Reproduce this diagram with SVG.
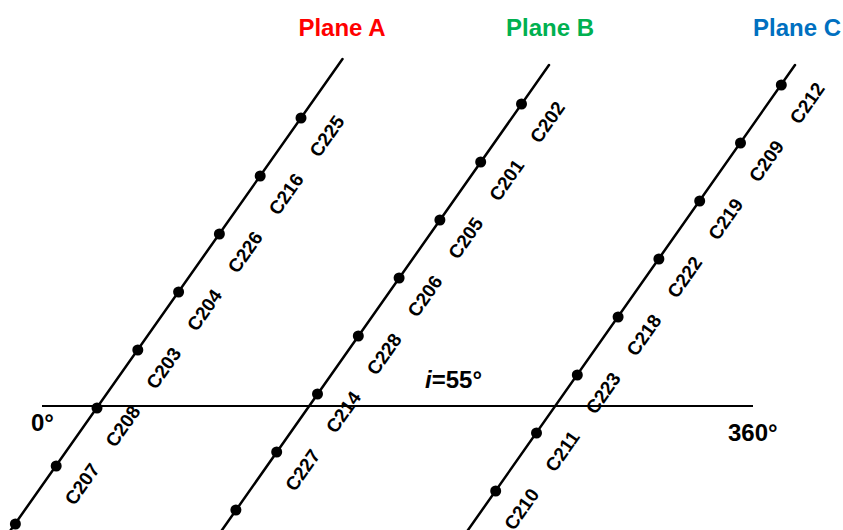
<svg xmlns="http://www.w3.org/2000/svg" width="843" height="530" viewBox="0 0 843 530">
<style>
.ln{stroke:#000;stroke-width:2.5;fill:none;stroke-linecap:round}
.ax{stroke:#000;stroke-width:2;fill:none}
.dot{fill:#000}
.lb{font-family:"Liberation Sans",Arial,sans-serif;font-weight:bold;font-size:19px;fill:#000;text-anchor:middle}
.tt{font-family:"Liberation Sans",Arial,sans-serif;font-weight:bold;font-size:24px;text-anchor:middle}
.ax-t{font-family:"Liberation Sans",Arial,sans-serif;font-weight:bold;font-size:24px;fill:#000}
</style>
<rect width="843" height="530" fill="#fff"/>
<g id="titles">
<text class="tt" x="342" y="36" fill="#FF0000">Plane A</text>
<text class="tt" x="550" y="36" fill="#00B050">Plane B</text>
<text class="tt" x="797" y="36" fill="#0070C0">Plane C</text>
</g>
<g id="connectors">
<line class="ax" x1="42" y1="406" x2="753" y2="406"/>
<line class="ln" x1="342.5" y1="59" x2="3" y2="541"/>
<line class="ln" x1="549" y1="65" x2="215" y2="540"/>
<line class="ln" x1="795" y1="65" x2="461" y2="540"/>
</g>
<g id="axis-labels">
<text class="ax-t" x="31" y="431">0°</text>
<text class="ax-t" x="728" y="441">360°</text>
<text class="ax-t" x="425" y="388"><tspan font-style="italic">i</tspan>=55°</text>
</g>
<g id="C225"><circle class="dot" cx="301" cy="118" r="5.5"/><text class="lb" transform="translate(326.5,136) rotate(-55)" y="7">C225</text></g>
<g id="C216"><circle class="dot" cx="260.2" cy="176" r="5.5"/><text class="lb" transform="translate(285.7,194) rotate(-55)" y="7">C216</text></g>
<g id="C226"><circle class="dot" cx="219.4" cy="234" r="5.5"/><text class="lb" transform="translate(244.9,252) rotate(-55)" y="7">C226</text></g>
<g id="C204"><circle class="dot" cx="178.6" cy="292" r="5.5"/><text class="lb" transform="translate(204.1,310) rotate(-55)" y="7">C204</text></g>
<g id="C203"><circle class="dot" cx="137.8" cy="350" r="5.5"/><text class="lb" transform="translate(163.3,368) rotate(-55)" y="7">C203</text></g>
<g id="C208"><circle class="dot" cx="97" cy="408" r="5.5"/><text class="lb" transform="translate(122.5,426) rotate(-55)" y="7">C208</text></g>
<g id="C207"><circle class="dot" cx="56.2" cy="466" r="5.5"/><text class="lb" transform="translate(81.7,484) rotate(-55)" y="7">C207</text></g>
<g id="A-bottom"><circle class="dot" cx="15.4" cy="524" r="5.5"/></g>
<g id="C202"><circle class="dot" cx="521.5" cy="104" r="5.5"/><text class="lb" transform="translate(547,122) rotate(-55)" y="7">C202</text></g>
<g id="C201"><circle class="dot" cx="480.7" cy="162" r="5.5"/><text class="lb" transform="translate(506.2,180) rotate(-55)" y="7">C201</text></g>
<g id="C205"><circle class="dot" cx="439.9" cy="220" r="5.5"/><text class="lb" transform="translate(465.4,238) rotate(-55)" y="7">C205</text></g>
<g id="C206"><circle class="dot" cx="399.1" cy="278" r="5.5"/><text class="lb" transform="translate(424.6,296) rotate(-55)" y="7">C206</text></g>
<g id="C228"><circle class="dot" cx="358.3" cy="336" r="5.5"/><text class="lb" transform="translate(383.8,354) rotate(-55)" y="7">C228</text></g>
<g id="C214"><circle class="dot" cx="317.5" cy="394" r="5.5"/><text class="lb" transform="translate(343,412) rotate(-55)" y="7">C214</text></g>
<g id="C227"><circle class="dot" cx="276.7" cy="452" r="5.5"/><text class="lb" transform="translate(302.2,470) rotate(-55)" y="7">C227</text></g>
<g id="B-bottom"><circle class="dot" cx="235.9" cy="510" r="5.5"/></g>
<g id="C212"><circle class="dot" cx="781.3" cy="85" r="5.5"/><text class="lb" transform="translate(806.8,103) rotate(-55)" y="7">C212</text></g>
<g id="C209"><circle class="dot" cx="740.5" cy="143" r="5.5"/><text class="lb" transform="translate(766,161) rotate(-55)" y="7">C209</text></g>
<g id="C219"><circle class="dot" cx="699.7" cy="201" r="5.5"/><text class="lb" transform="translate(725.2,219) rotate(-55)" y="7">C219</text></g>
<g id="C222"><circle class="dot" cx="658.9" cy="259" r="5.5"/><text class="lb" transform="translate(684.4,277) rotate(-55)" y="7">C222</text></g>
<g id="C218"><circle class="dot" cx="618.1" cy="317" r="5.5"/><text class="lb" transform="translate(643.6,335) rotate(-55)" y="7">C218</text></g>
<g id="C223"><circle class="dot" cx="577.3" cy="375" r="5.5"/><text class="lb" transform="translate(602.8,393) rotate(-55)" y="7">C223</text></g>
<g id="C211"><circle class="dot" cx="536.5" cy="433" r="5.5"/><text class="lb" transform="translate(562,451) rotate(-55)" y="7">C211</text></g>
<g id="C210"><circle class="dot" cx="495.7" cy="491" r="5.5"/><text class="lb" transform="translate(521.2,509) rotate(-55)" y="7">C210</text></g>
</svg>
